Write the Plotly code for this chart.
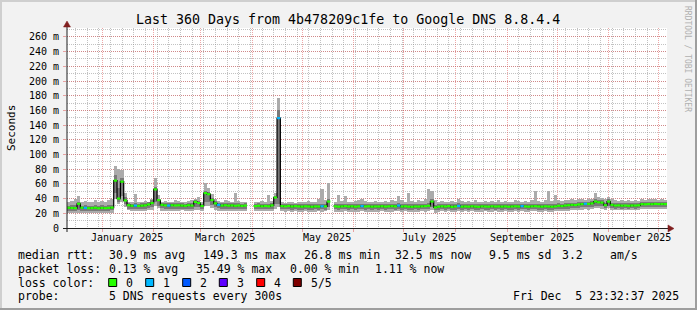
import plotly.graph_objects as go
import pandas as pd

nan = float("nan")

# ---------------- data (2-day bins starting 2024-12-11) ----------------
bin_start = "2024-12-11"
bin_days = 2

median_ms = [
    27.5, 27.2, 27.0, 33.0, 27.6, 27.4, 27.0, 27.2, 27.5, 26.8,
    27.3, 27.0, 27.4, 27.8, 64.5, 40.0, 63.0, 37.5, 31.0, 30.2,
    30.5, 30.0, 30.4, 30.8, 32.0, 34.0, 52.5, 38.0, 31.5, 30.8,
    30.5, 31.0, 30.6, 30.9, 30.5, 30.2, 31.0, 30.5, 35.5, 34.0,
    30.0, 47.5, 46.0, 38.0, 33.5, 31.5, 30.5, 31.0, 30.4, 30.8,
    30.2, 30.6, 30.0, 30.5, nan, nan, 29.8, 30.2, 29.5, 30.0,
    29.6, 30.8, 41.5, 149.5, 29.8, 29.5, 30.0, 29.2, 29.8, 29.4,
    29.0, 29.6, 29.3, 28.8, 29.5, 29.2, 29.6, 29.4, 36.0, nan,
    29.5, 29.0, 29.4, 29.8, 29.2, 29.6, 29.0, 29.5, 29.8, 29.3,
    29.6, 29.0, 29.4, 29.2, 29.7, 29.1, 29.5, 29.8, 29.4, 30.5,
    29.2, 29.6, 29.0, 28.8, 29.4, 29.1, 29.5, 29.7, 30.2, 36.0,
    28.0, 29.0, 29.6, 29.2, 29.8, 28.6, 29.3, 30.0, 29.0, 29.4,
    29.0, 29.6, 29.2, 28.8, 29.5, 29.3, 29.0, 29.6, 29.2, 29.4,
    29.1, 29.5, 28.9, 29.3, 29.6, 29.2, 29.8, 29.4, 29.0, 29.5,
    29.7, 29.3, 29.0, 29.6, 29.2, 28.9, 29.4, 30.2, 29.8, 30.5,
    31.0, 31.5, 31.2, 32.0, 32.5, 33.0, 32.8, 33.5, 36.0, 35.0,
    34.5, 31.0, 36.0, 31.5, 30.5, 30.8, 30.4, 30.6, 30.2, 30.7,
    30.5, 30.9, 32.5, 32.3, 32.6, 32.4, 32.8, 32.5, 32.6, 32.5,
]

smoke_hi = [
    36, 37, 40, 44, 36, 37, 35, 36, 38, 36,
    37, 36, 38, 39, 85, 80, 79, 48, 36, 35,
    46, 36, 35, 37, 36, 40, 68, 45, 36, 37,
    35, 36, 38, 37, 36, 35, 37, 38, 40, 42,
    36, 61, 55, 46, 39, 37, 36, 38, 37, 36,
    48, 37, 36, 35, nan, nan, 35, 36, 37, 36,
    45, 37, 48, 177, 35, 34, 36, 35, 34, 35,
    36, 35, 37, 36, 35, 40, 53, 38, 61, nan,
    36, 45, 37, 43, 36, 35, 37, 38, 40, 37,
    36, 35, 37, 36, 35, 37, 36, 38, 37, 44,
    38, 36, 47, 37, 36, 38, 37, 39, 53, 50,
    38, 36, 37, 36, 35, 37, 36, 40, 37, 36,
    37, 36, 38, 36, 35, 37, 36, 37, 36, 38,
    36, 37, 35, 36, 38, 37, 36, 37, 36, 38,
    51, 37, 36, 38, 51, 37, 45, 38, 37, 38,
    38, 39, 38, 40, 39, 38, 40, 39, 48, 42,
    41, 39, 42, 40, 38, 37, 38, 37, 38, 37,
    38, 37, 39, 38, 39, 40, 39, 38, 39, 38,
]

smoke_lo = [
    20, 20.5, 20, 21, 20, 20.5, 20, 20.5, 20, 20.5,
    20, 20.5, 21, 21, 40, 32, 35, 28, 24, 23.5,
    23, 23.5, 23, 23.5, 24, 25, 30, 27, 23.5, 23,
    23.5, 23, 23.5, 23, 24, 23, 23.5, 23, 25, 24,
    23.5, 30, 30, 27, 24, 23.5, 23, 23.5, 23, 23.5,
    23, 23.5, 23, 23.5, nan, nan, 22.5, 23, 22.5, 23,
    22.5, 23, 26, 28, 22.5, 22, 22.5, 22, 22.5, 22,
    22, 22.5, 22, 21.5, 22, 22.5, 22, 22.5, 25, nan,
    22, 21.5, 22, 22.5, 22, 21.5, 22, 22, 22.5, 22,
    22, 21.5, 22, 22, 22.5, 22, 21.5, 22, 22.5, 22.5,
    22, 22.5, 22, 21.5, 22, 22, 22.5, 22, 22.5, 24,
    21, 22, 22.5, 22, 22.5, 21.5, 22, 23, 22, 22.5,
    22, 22.5, 22, 21.5, 22, 22.5, 22, 22, 22.5, 22,
    22, 22.5, 21.5, 22, 22.5, 22, 22.5, 22, 22, 22.5,
    22.5, 22, 22, 22.5, 22, 21.5, 22.5, 23, 22.5, 23,
    23.5, 24, 24, 24.5, 25, 25.5, 25, 26, 27, 27,
    26.5, 24.5, 27, 25, 24, 24.5, 24, 24.5, 24, 24.5,
    24, 24.5, 25.5, 25.5, 26, 25.5, 26, 25.5, 26, 25.5,
]

core_lo = [
    23.5, 23.5, 23, 25, 23.5, 23.5, 23, 23.5, 23.5, 23,
    23.5, 23, 23.5, 24, 48, 36, 44, 32, 26.5, 26,
    26, 26.5, 26, 26.5, 27, 29, 36, 30, 27, 26.5,
    26.5, 26.5, 26, 26.5, 26.5, 26, 26.5, 26, 29, 28.5,
    26, 36, 36, 31, 28, 27, 26.5, 26.5, 26, 26.5,
    26, 26.5, 26, 26.5, nan, nan, 25.5, 26, 25.5, 26,
    25.5, 26, 32, 32, 25.5, 25.5, 26, 25, 25.5, 25,
    25, 25.5, 25, 24.5, 25.5, 25, 25.5, 25, 28, nan,
    25.5, 25, 25.5, 25.5, 25, 25.5, 25, 25.5, 25.5, 25,
    25.5, 25, 25.5, 25, 25.5, 25, 25.5, 25.5, 25, 26,
    25, 25.5, 25, 24.5, 25.5, 25, 25.5, 25.5, 26, 28,
    24, 25, 25.5, 25, 25.5, 24.5, 25, 26, 25, 25.5,
    25, 25.5, 25, 24.5, 25.5, 25, 25, 25.5, 25, 25.5,
    25, 25.5, 24.5, 25, 25.5, 25, 25.5, 25.5, 25, 25.5,
    25.5, 25, 25, 25.5, 25, 24.5, 25.5, 26, 25.5, 26,
    26.5, 27, 27, 27.5, 28, 28.5, 28, 29, 30, 30,
    29.5, 27, 30, 27.5, 26.5, 27, 26.5, 27, 26.5, 27,
    26.5, 27, 28, 28, 28.5, 28, 28.5, 28, 28.5, 28,
]

core_hi = [
    30.5, 31, 31, 36, 30.5, 31, 30, 30.5, 31, 30.5,
    31, 30.5, 31, 31.5, 72, 55, 68, 42, 33.5, 33,
    34, 33, 33.5, 34, 35, 37.5, 56, 40, 34, 33.5,
    33.5, 34, 33.5, 34, 33.5, 33, 34, 33.5, 38, 37,
    33, 50, 49, 41, 36.5, 34.5, 33.5, 34, 33.5, 34,
    33.5, 34, 33, 33.5, nan, nan, 33, 33.5, 32.5, 33,
    33, 34, 44, 161, 32.5, 32.5, 33, 32, 32.5, 32.5,
    32, 33, 32.5, 32, 32.5, 32.5, 33, 32.5, 39, nan,
    32.5, 32.5, 32.5, 33, 32.5, 32.5, 32, 32.5, 33, 32.5,
    33, 32, 32.5, 32.5, 33, 32, 32.5, 33, 32.5, 34,
    32.5, 33, 32.5, 32, 32.5, 32.5, 32.5, 33, 33.5, 39,
    31.5, 32.5, 33, 32.5, 33, 32, 32.5, 33.5, 32, 32.5,
    32, 33, 32.5, 32, 32.5, 32.5, 32, 33, 32.5, 32.5,
    32, 32.5, 32, 32.5, 33, 32.5, 33, 32.5, 32, 32.5,
    33, 32.5, 32, 33, 32.5, 32, 32.5, 33.5, 33, 33.5,
    34, 34.5, 34.5, 35, 35.5, 36, 36, 36.5, 39, 38,
    37.5, 34, 39, 34.5, 33.5, 34, 33.5, 34, 33.5, 34,
    33.5, 34, 35.5, 35.5, 36, 35.5, 36, 35.5, 36, 35.5,
]

loss1_bins = [5, 20, 30, 45, 63, 76, 88, 99, 117, 136, 155]

y_tick_vals = [0, 20, 40, 60, 80, 100, 120, 140, 160, 180, 200, 220, 240, 260]
y_tick_text = ["0", "20 m", "40 m", "60 m", "80 m", "100 m", "120 m", "140 m",
               "160 m", "180 m", "200 m", "220 m", "240 m", "260 m"]
x_label_dates = ["2025-01-16", "2025-03-16", "2025-05-16", "2025-07-16",
                 "2025-09-16", "2025-11-15"]
x_label_text = ["January 2025", "March 2025", "May 2025", "July 2025",
                "September 2025", "November 2025"]

title = "Last 360 Days from 4b478209c1fe to Google DNS 8.8.4.4"
rtt_items = [("median rtt:", 16), ("30.9 ms avg", 107.3), ("149.3 ms max", 200.7),
             ("26.8 ms min", 301.7), ("32.5 ms now", 393.3), ("9.5 ms sd", 486.7),
             ("3.2", 559.5), ("am/s", 607.7)]
loss_items = [("packet loss:", 16), ("0.13 % avg", 107.3), ("35.49 % max", 194),
              ("0.00 % min", 287.5), ("1.11 % now", 372.7)]
loss_colors = ["#26FF00", "#00B8FF", "#0059FF", "#5E00FF", "#FF0000", "#7E0000"]
loss_labels = ["0", "1", "2", "3", "4", "5/5"]
probe_text = "5 DNS requests every 300s"
stamp_text = "Fri Dec\u00a0 5 23:32:37 2025"

# ---------------- geometry ----------------
W, H = 697, 310
L, R, T, B = 67, 30, 28, 82
PW, PH = W - L - R, H - T - B


def px(x):
    return (x - L) / PW


def py(y):
    return (H - B - y) / PH


FONT = "DejaVu Sans Mono"
t_start = pd.Timestamp("2024-12-10 23:32:37")
t_end = pd.Timestamp("2025-12-05 23:32:37")

n = len(median_ms)
step = pd.Timedelta(days=bin_days)
edges = [pd.Timestamp(bin_start) + i * step for i in range(n + 1)]
centers = [e + step / 2 for e in edges[:-1]]
width_ms = bin_days * 86400000

fig = go.Figure()

# smoke (outer and core)
fig.add_trace(go.Bar(x=centers, y=[h - l for h, l in zip(smoke_hi, smoke_lo)], base=smoke_lo,
                     width=width_ms, marker=dict(color="#ABABAB", line=dict(width=0)),
                     hoverinfo="skip", showlegend=False))
fig.add_trace(go.Bar(x=centers, y=[h - l for h, l in zip(core_hi, core_lo)], base=core_lo,
                     width=width_ms, marker=dict(color="#7A7A7A", line=dict(width=0)),
                     hoverinfo="skip", showlegend=False))

# black step line (shows at the vertical transitions)
step_x = edges
step_y = median_ms + [median_ms[-1]]
fig.add_trace(go.Scatter(x=step_x, y=step_y, mode="lines", line=dict(color="#000000", width=1.2, shape="hv"),
                         connectgaps=False, hoverinfo="skip", showlegend=False))

# horizontal median segments coloured by loss
gx, gy, bx, by = [], [], [], []
for i, m in enumerate(median_ms):
    if m != m:
        continue
    if i in loss1_bins:
        bx += [edges[i], edges[i + 1], None]
        by += [m, m, None]
    else:
        gx += [edges[i], edges[i + 1], None]
        gy += [m, m, None]
fig.add_trace(go.Scatter(x=gx, y=gy, mode="lines", line=dict(color=loss_colors[0], width=2.2),
                         hoverinfo="skip", showlegend=False))
fig.add_trace(go.Scatter(x=bx, y=by, mode="lines", line=dict(color=loss_colors[1], width=2.2),
                         hoverinfo="skip", showlegend=False))

MAJOR = "rgba(222,79,79,0.5)"
MINOR = "rgba(143,143,143,0.55)"

fig.update_layout(
    width=W, height=H, margin=dict(l=L, r=R, t=T, b=B),
    paper_bgcolor="#F2F2F2", plot_bgcolor="#FFFFFF",
    barmode="overlay", bargap=0, showlegend=False,
    font=dict(family=FONT, color="#000000"),
    xaxis=dict(type="date", range=[t_start, t_end], showline=False, zeroline=False,
               showgrid=True, gridcolor=MAJOR, griddash="1px,1px", gridwidth=1,
               tick0="2025-01-01", dtick="M1", ticks="outside", ticklen=3, tickcolor=MAJOR,
               showticklabels=False,
               minor=dict(showgrid=True, gridcolor=MINOR, griddash="1px,1px", gridwidth=1,
                          tick0="2024-12-16", dtick=7 * 86400000, ticks="")),
    yaxis=dict(range=[0, PH / 0.735], showline=False, zeroline=False,
               tickvals=y_tick_vals, ticktext=y_tick_text,
               tickfont=dict(family=FONT, size=10, color="#000000"),
               showgrid=True, gridcolor=MAJOR, griddash="1px,1px", gridwidth=1,
               ticks="outside", ticklen=3, tickcolor=MAJOR, ticklabelstandoff=2,
               minor=dict(showgrid=True, gridcolor=MINOR, griddash="1px,1px", gridwidth=1,
                          dtick=10, ticks="")),
)

ann = []
# x axis labels
for d, t in zip(x_label_dates, x_label_text):
    ann.append(dict(x=pd.Timestamp(d), y=py(237.8), xref="x", yref="paper", text=t, showarrow=False,
                    xanchor="center", yanchor="middle", font=dict(family=FONT, size=10, color="#000000")))
# title
ann.append(dict(x=px(347.5), y=py(19.3), xref="paper", yref="paper", text=title, showarrow=False,
                xanchor="center", yanchor="middle", font=dict(family=FONT, size=13.3, color="#000000")))
# y axis title
ann.append(dict(x=px(11), y=py(128), xref="paper", yref="paper", text="Seconds", showarrow=False,
                textangle=-90, xanchor="center", yanchor="middle", font=dict(family=FONT, size=11, color="#000000")))
# watermark
ann.append(dict(x=px(688), y=py(59), xref="paper", yref="paper", text="RRDTOOL / TOBI OETIKER", showarrow=False,
                textangle=90, xanchor="center", yanchor="middle", font=dict(family=FONT, size=8, color="#B0B0B0")))

LEG = dict(family=FONT, size=11.5, color="#000000")
for text, x in rtt_items:
    ann.append(dict(x=px(x), y=py(254.5), xref="paper", yref="paper", text=text, showarrow=False,
                    xanchor="left", yanchor="middle", font=LEG))
for text, x in loss_items:
    ann.append(dict(x=px(x), y=py(268.5), xref="paper", yref="paper", text=text, showarrow=False,
                    xanchor="left", yanchor="middle", font=LEG))
ann.append(dict(x=px(16), y=py(282.5), xref="paper", yref="paper", text="loss color:", showarrow=False,
                xanchor="left", yanchor="middle", font=LEG))
box_x = [108.7, 145.7, 182.7, 219.3, 256.7, 293.3]
shapes = []
for bxp, col, lab in zip(box_x, loss_colors, loss_labels):
    shapes.append(dict(type="rect", xref="paper", yref="paper", x0=px(bxp), x1=px(bxp + 8),
                       y0=py(286.5), y1=py(278.5), fillcolor=col, line=dict(color="#000000", width=1)))
    ann.append(dict(x=px(bxp + 15.5), y=py(282.5), xref="paper", yref="paper", text=lab, showarrow=False,
                    xanchor="left", yanchor="middle", font=LEG))
ann.append(dict(x=px(16), y=py(296.3), xref="paper", yref="paper", text="probe:", showarrow=False,
                xanchor="left", yanchor="middle", font=LEG))
ann.append(dict(x=px(107.3), y=py(296.3), xref="paper", yref="paper", text=probe_text, showarrow=False,
                xanchor="left", yanchor="middle", font=LEG))
ann.append(dict(x=px(681), y=py(296.3), xref="paper", yref="paper", text=stamp_text, showarrow=False,
                xanchor="right", yanchor="middle", font=LEG))


def path(points):
    return "M " + " L ".join(f"{px(a):.5f},{py(b):.5f}" for a, b in points) + " Z"


# axes lines and arrows
shapes.append(dict(type="line", xref="paper", yref="paper", x0=px(63), x1=px(669), y0=py(228.5), y1=py(228.5),
                   line=dict(color="#1F1F1F", width=1)))
shapes.append(dict(type="line", xref="paper", yref="paper", x0=px(67), x1=px(67), y0=py(232), y1=py(25),
                   line=dict(color="#1F1F1F", width=1)))
shapes.append(dict(type="path", xref="paper", yref="paper", path=path([(668, 225), (674, 228.5), (668, 232)]),
                   fillcolor="#801F1F", line=dict(color="#801F1F", width=0.5)))
shapes.append(dict(type="path", xref="paper", yref="paper", path=path([(63.5, 27), (67, 21), (70.5, 27)]),
                   fillcolor="#801F1F", line=dict(color="#801F1F", width=0.5)))
# 3D frame
shapes.append(dict(type="rect", xref="paper", yref="paper", x0=px(0), x1=px(W), y0=py(2), y1=py(0),
                   fillcolor="#CFCFCF", line=dict(width=0), layer="below"))
shapes.append(dict(type="rect", xref="paper", yref="paper", x0=px(0), x1=px(2), y0=py(H), y1=py(0),
                   fillcolor="#CFCFCF", line=dict(width=0), layer="below"))
shapes.append(dict(type="rect", xref="paper", yref="paper", x0=px(W - 2), x1=px(W), y0=py(H), y1=py(0),
                   fillcolor="#9E9E9E", line=dict(width=0), layer="below"))
shapes.append(dict(type="rect", xref="paper", yref="paper", x0=px(0), x1=px(W), y0=py(H), y1=py(H - 2),
                   fillcolor="#9E9E9E", line=dict(width=0), layer="below"))

fig.update_layout(annotations=ann, shapes=shapes)
fig.write_html("out.html")
